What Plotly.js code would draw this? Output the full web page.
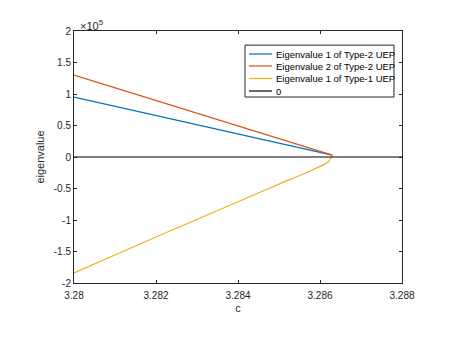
<!DOCTYPE html>
<html>
<head>
<meta charset="utf-8">
<script src="https://cdn.plot.ly/plotly-3.0.1.min.js"></script>
<style>
  body { margin: 0; background: #fff; }
  #chart { width: 460px; height: 345px; }
</style>
</head>
<body>
<div id="chart"></div>
<script>
// values (eigenvalues in raw units)
var cBlue = [3.28, 3.282, 3.284, 3.286, 3.2863];
var eig1Type2 = [95000, 66000, 37000, 7500, 3000];

var cRed = [3.28, 3.282, 3.284, 3.286, 3.2863];
var eig2Type2 = [130000, 90000, 50000, 9500, 3000];

var cYellow = [3.28, 3.282, 3.284, 3.285, 3.2858, 3.2862, 3.2863];
var eig1Type1 = [-184000, -127000, -71000, -43000, -21000, -8000, 3000];

var cZero = [3.28, 3.288];
var zeroLine = [0, 0];

var yTicks = [-200000, -150000, -100000, -50000, 0, 50000, 100000, 150000, 200000];
var yTickText = ['-2', '-1.5', '-1', '-0.5', '0', '0.5', '1', '1.5', '2'];
var xTicks = [3.28, 3.282, 3.284, 3.286, 3.288];
var xTickText = ['3.28', '3.282', '3.284', '3.286', '3.288'];

var FONT = 'Liberation Sans, Arial, sans-serif';

var traces = [
  {x: cBlue, y: eig1Type2, type: 'scatter', mode: 'lines', name: 'Eigenvalue 1 of Type-2 UEP',
   line: {color: '#0072BD', width: 1.2}},
  {x: cRed, y: eig2Type2, type: 'scatter', mode: 'lines', name: 'Eigenvalue 2 of Type-2 UEP',
   line: {color: '#D95319', width: 1.2}},
  {x: cYellow, y: eig1Type1, type: 'scatter', mode: 'lines', name: 'Eigenvalue 1 of Type-1 UEP',
   line: {color: '#EDB120', width: 1.2, shape: 'spline', smoothing: 0.6}},
  {x: cZero, y: zeroLine, type: 'scatter', mode: 'lines', name: '0',
   line: {color: '#000000', width: 1.2}}
];

// compact MATLAB-like legend (plotly's own rows are too tall)
var shapes = [{
  type: 'rect', xref: 'paper', yref: 'paper',
  x0: 0.5213, x1: 0.9756, y0: 0.738, y1: 0.944,
  fillcolor: '#fff', line: {color: '#262626', width: 1}, layer: 'above'
}];
var annotations = [{
  xref: 'paper', yref: 'paper', x: 0, y: 1, xanchor: 'left', yanchor: 'bottom',
  text: '×10<sup>5</sup>', showarrow: false, xshift: 4, yshift: -3,
  font: {family: FONT, size: 11, color: '#262626'}
}];
var rowY = [0.9087, 0.8611, 0.8115, 0.7619];
traces.forEach(function (t, i) {
  t.showlegend = false;
  shapes.push({
    type: 'line', xref: 'paper', yref: 'paper', layer: 'above',
    x0: 0.5335, x1: 0.6037, y0: rowY[i], y1: rowY[i],
    line: {color: t.line.color, width: 1.2}
  });
  annotations.push({
    xref: 'paper', yref: 'paper', x: 0.6098, y: rowY[i],
    xanchor: 'left', yanchor: 'middle', showarrow: false, text: t.name,
    font: {family: FONT, size: 9.5, color: '#000'}
  });
});

var axisStyle = {
  showline: true, linecolor: '#262626', linewidth: 1, mirror: 'allticks',
  ticks: 'inside', ticklen: 3, tickcolor: '#262626',
  showgrid: false, zeroline: false,
  tickfont: {family: FONT, size: 10, color: '#262626'}
};

var layout = {
  width: 460, height: 345,
  margin: {l: 74, r: 58, t: 31, b: 62},
  paper_bgcolor: '#fff', plot_bgcolor: '#fff',
  showlegend: false,
  xaxis: Object.assign({}, axisStyle, {
    range: [3.28, 3.288], tickvals: xTicks, ticktext: xTickText,
    ticklabelstandoff: 3,
    title: {text: 'c', standoff: 4, font: {family: FONT, size: 11, color: '#262626'}}
  }),
  yaxis: Object.assign({}, axisStyle, {
    range: [-200000, 200000], tickvals: yTicks, ticktext: yTickText,
    title: {text: 'eigenvalue', standoff: 6, font: {family: FONT, size: 11, color: '#262626'}}
  }),
  shapes: shapes,
  annotations: annotations
};

Plotly.newPlot('chart', traces, layout, {displayModeBar: false});
</script>
</body>
</html>
